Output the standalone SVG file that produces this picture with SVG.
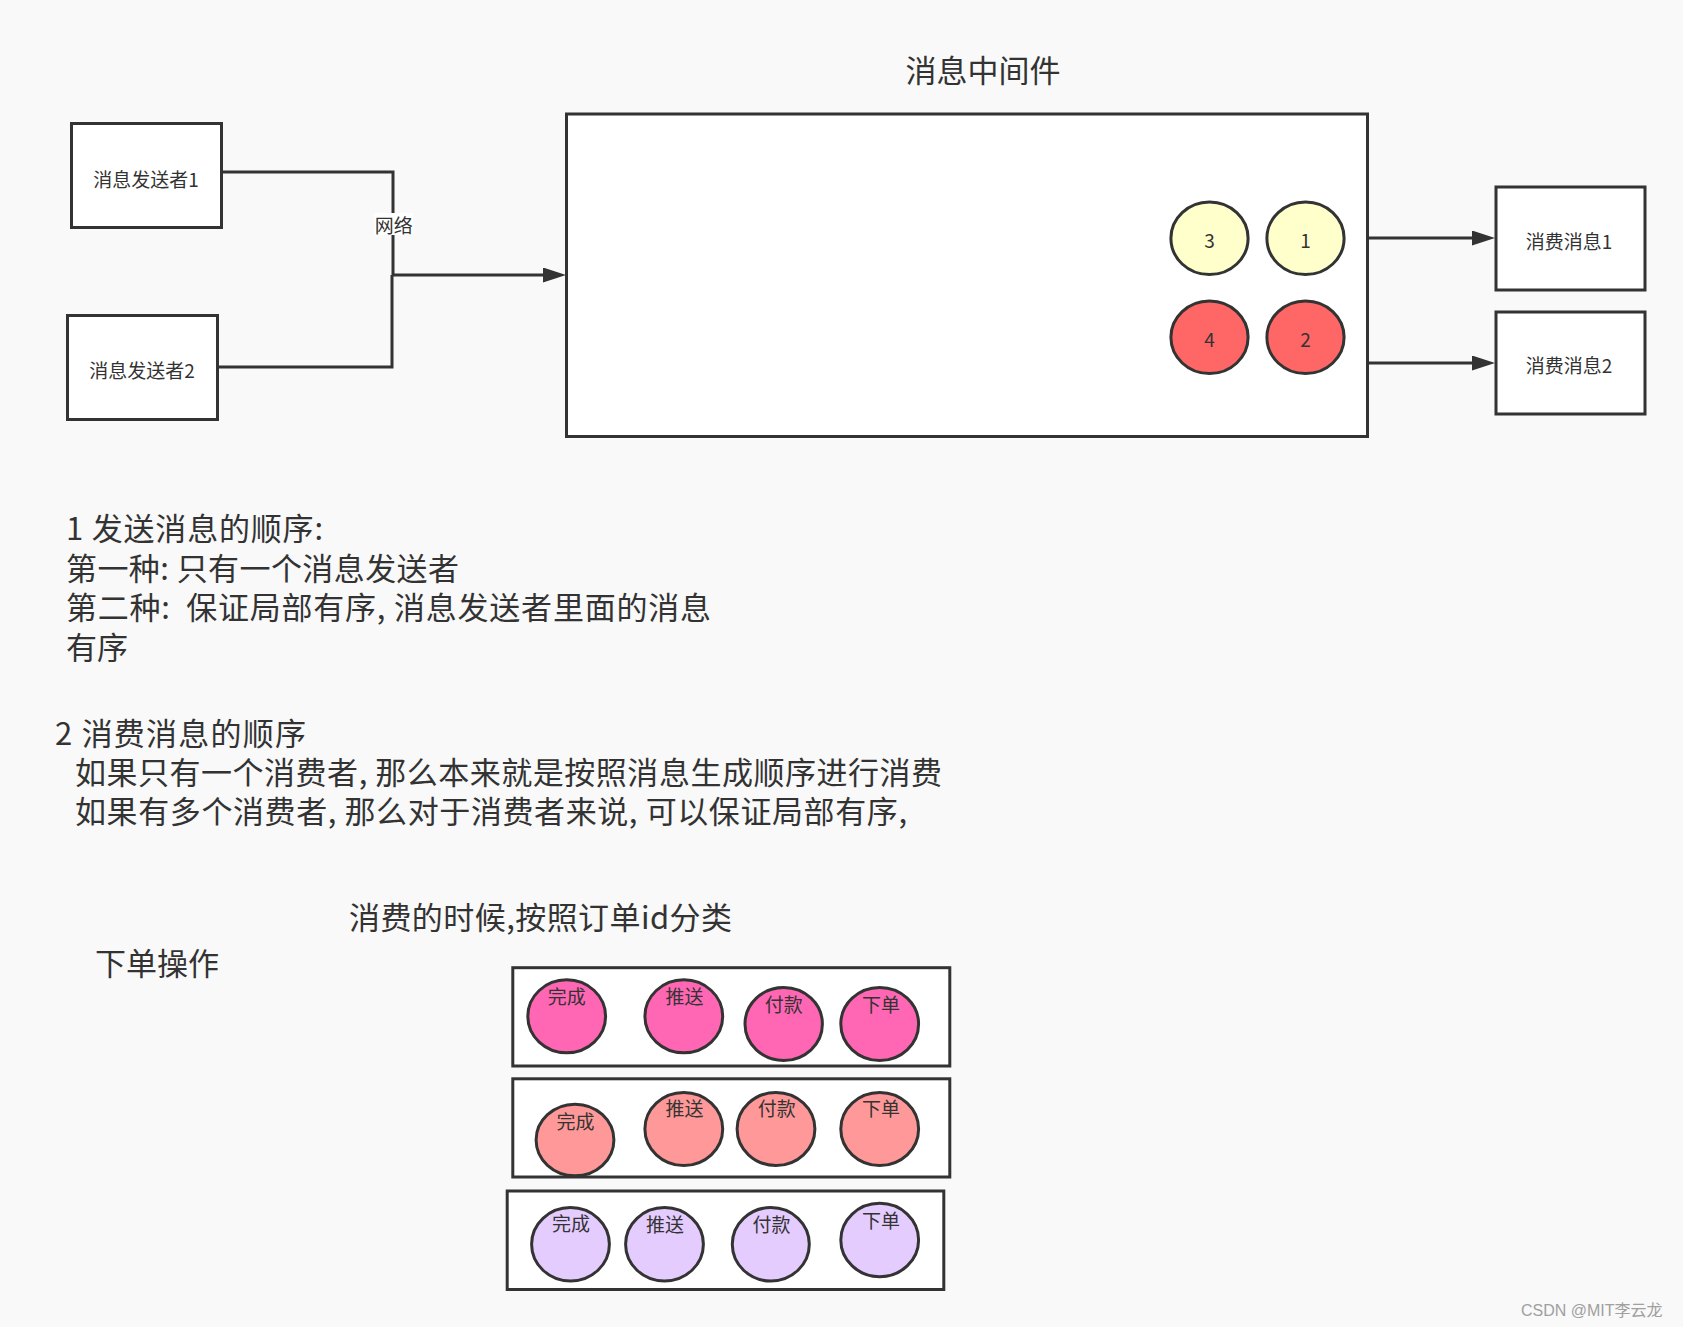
<svg xmlns="http://www.w3.org/2000/svg" width="1683" height="1327" viewBox="0 0 1683 1327">
<style>
  text { font-family: "Noto Sans CJK SC", "Noto Sans", sans-serif; fill: #333333; }
  .box { fill: #ffffff; stroke: #333333; stroke-width: 3; }
  .c { stroke: #333333; stroke-width: 3; }
  .lbl { font-size: 19px; text-anchor: middle; dominant-baseline: central; }
  .big { font-size: 31px; }
  .conn { fill: none; stroke: #333333; stroke-width: 3; }
  .yellow { fill: #ffffcc; }
  .red { fill: #ff6666; }
  .pink { fill: #ff66b3; }
  .salmon { fill: #ff9999; }
  .lav { fill: #e5ccff; }
</style>
<defs>
  <marker id="arrow" viewBox="0 0 23 15" refX="17" refY="7.5" markerWidth="23" markerHeight="15" markerUnits="userSpaceOnUse" orient="auto">
    <path d="M0,0 L23,7.5 L0,15 Z" fill="#333333"/>
  </marker>
</defs>
<rect x="0" y="0" width="1683" height="1327" fill="#f9f9f9"/>

<text class="big" x="983" y="82" text-anchor="middle">消息中间件</text>

<g id="middleware">
  <rect class="box" x="566.5" y="114" width="801" height="322.5"/>
</g>

<g id="sender1">
  <rect class="box" x="71.5" y="123.5" width="150" height="104"/>
  <text class="lbl" x="146" y="178">消息发送者1</text>
</g>
<g id="sender2">
  <rect class="box" x="67.5" y="315.5" width="150" height="104"/>
  <text class="lbl" x="142" y="369">消息发送者2</text>
</g>

<g id="consumer1">
  <rect class="box" x="1496" y="187" width="149" height="103"/>
  <text class="lbl" x="1569" y="240">消费消息1</text>
</g>
<g id="consumer2">
  <rect class="box" x="1496" y="312" width="149" height="102"/>
  <text class="lbl" x="1569" y="364">消费消息2</text>
</g>

<g id="msg3"><ellipse class="c yellow" cx="1209.5" cy="238.3" rx="38.6" ry="36.3"/><text class="lbl" x="1209.5" y="239">3</text></g>
<g id="msg1"><ellipse class="c yellow" cx="1305.5" cy="238.3" rx="38.6" ry="36.3"/><text class="lbl" x="1305.5" y="239">1</text></g>
<g id="msg4"><ellipse class="c red" cx="1209.5" cy="337.3" rx="38.6" ry="36.3"/><text class="lbl" x="1209.5" y="338">4</text></g>
<g id="msg2"><ellipse class="c red" cx="1305.5" cy="337.3" rx="38.6" ry="36.3"/><text class="lbl" x="1305.5" y="338">2</text></g>

<g id="connectors">
  <path class="conn" d="M222,172 H393 V275"/>
  <path class="conn" d="M218,367 H392 V275"/>
  <path class="conn" d="M392,275 H560" marker-end="url(#arrow)"/>
  <rect x="374" y="213" width="39" height="22" fill="#ffffff"/>
  <text class="lbl" x="393.8" y="224">网络</text>
  <path class="conn" d="M1368,238 H1489" marker-end="url(#arrow)"/>
  <path class="conn" d="M1368,363 H1489" marker-end="url(#arrow)"/>
</g>

<g id="notes1">
  <text class="big" xml:space="preserve"><tspan x="66" y="540" textLength="257" lengthAdjust="spacing">1 发送消息的顺序:</tspan><tspan x="66" y="579.5" textLength="393" lengthAdjust="spacing">第一种: 只有一个消息发送者</tspan><tspan x="66" y="619" textLength="645" lengthAdjust="spacing">第二种:  保证局部有序, 消息发送者里面的消息</tspan><tspan x="66" y="658.5">有序</tspan></text>
</g>

<g id="notes2">
  <text class="big"><tspan x="55" y="745" textLength="251" lengthAdjust="spacing">2 消费消息的顺序</tspan><tspan x="75" y="784" textLength="867" lengthAdjust="spacing">如果只有一个消费者, 那么本来就是按照消息生成顺序进行消费</tspan><tspan x="75" y="823" textLength="832" lengthAdjust="spacing">如果有多个消费者, 那么对于消费者来说, 可以保证局部有序,</tspan></text>
</g>

<text class="big" x="349" y="929" textLength="383" lengthAdjust="spacing">消费的时候,按照订单id分类</text>
<text class="big" x="95" y="975">下单操作</text>

<g id="queue1">
  <rect class="box" x="512.8" y="967.7" width="437" height="98.3"/>
  <ellipse class="c pink" cx="566.7" cy="1016.3" rx="38.9" ry="36.5"/>
  <text class="lbl" x="566.7" y="995">完成</text>
  <ellipse class="c pink" cx="683.8" cy="1016.3" rx="38.9" ry="36.5"/>
  <text class="lbl" x="684.5" y="995">推送</text>
  <ellipse class="c pink" cx="783.7" cy="1024" rx="38.7" ry="36.5"/>
  <text class="lbl" x="783.7" y="1003">付款</text>
  <ellipse class="c pink" cx="879.7" cy="1024" rx="38.9" ry="36.5"/>
  <text class="lbl" x="881" y="1003">下单</text>
</g>

<g id="queue2">
  <rect class="box" x="512.8" y="1078.8" width="437" height="98.2"/>
  <ellipse class="c salmon" cx="575" cy="1140" rx="38.9" ry="35.8"/>
  <text class="lbl" x="575.5" y="1120">完成</text>
  <ellipse class="c salmon" cx="683.8" cy="1129" rx="38.9" ry="36.5"/>
  <text class="lbl" x="684.5" y="1107.7">推送</text>
  <ellipse class="c salmon" cx="776" cy="1129" rx="38.9" ry="36.5"/>
  <text class="lbl" x="776.7" y="1107.7">付款</text>
  <ellipse class="c salmon" cx="879.7" cy="1129" rx="38.9" ry="36.5"/>
  <text class="lbl" x="881" y="1107.7">下单</text>
</g>

<g id="queue3">
  <rect class="box" x="507.2" y="1191" width="436.6" height="98.5"/>
  <ellipse class="c lav" cx="570.5" cy="1244.3" rx="38.9" ry="36.7"/>
  <text class="lbl" x="571" y="1222.8">完成</text>
  <ellipse class="c lav" cx="664.5" cy="1244.3" rx="38.9" ry="36.7"/>
  <text class="lbl" x="665" y="1223">推送</text>
  <ellipse class="c lav" cx="770.8" cy="1244.3" rx="38.5" ry="36.7"/>
  <text class="lbl" x="771.5" y="1223">付款</text>
  <ellipse class="c lav" cx="879.7" cy="1240" rx="38.9" ry="36.7"/>
  <text class="lbl" x="881" y="1219">下单</text>
</g>

<text x="1521" y="1316" style="font-family: 'Liberation Sans', 'Noto Sans CJK SC', sans-serif; font-size: 16px; fill: #a0a0a0;">CSDN @MIT李云龙</text>
</svg>
